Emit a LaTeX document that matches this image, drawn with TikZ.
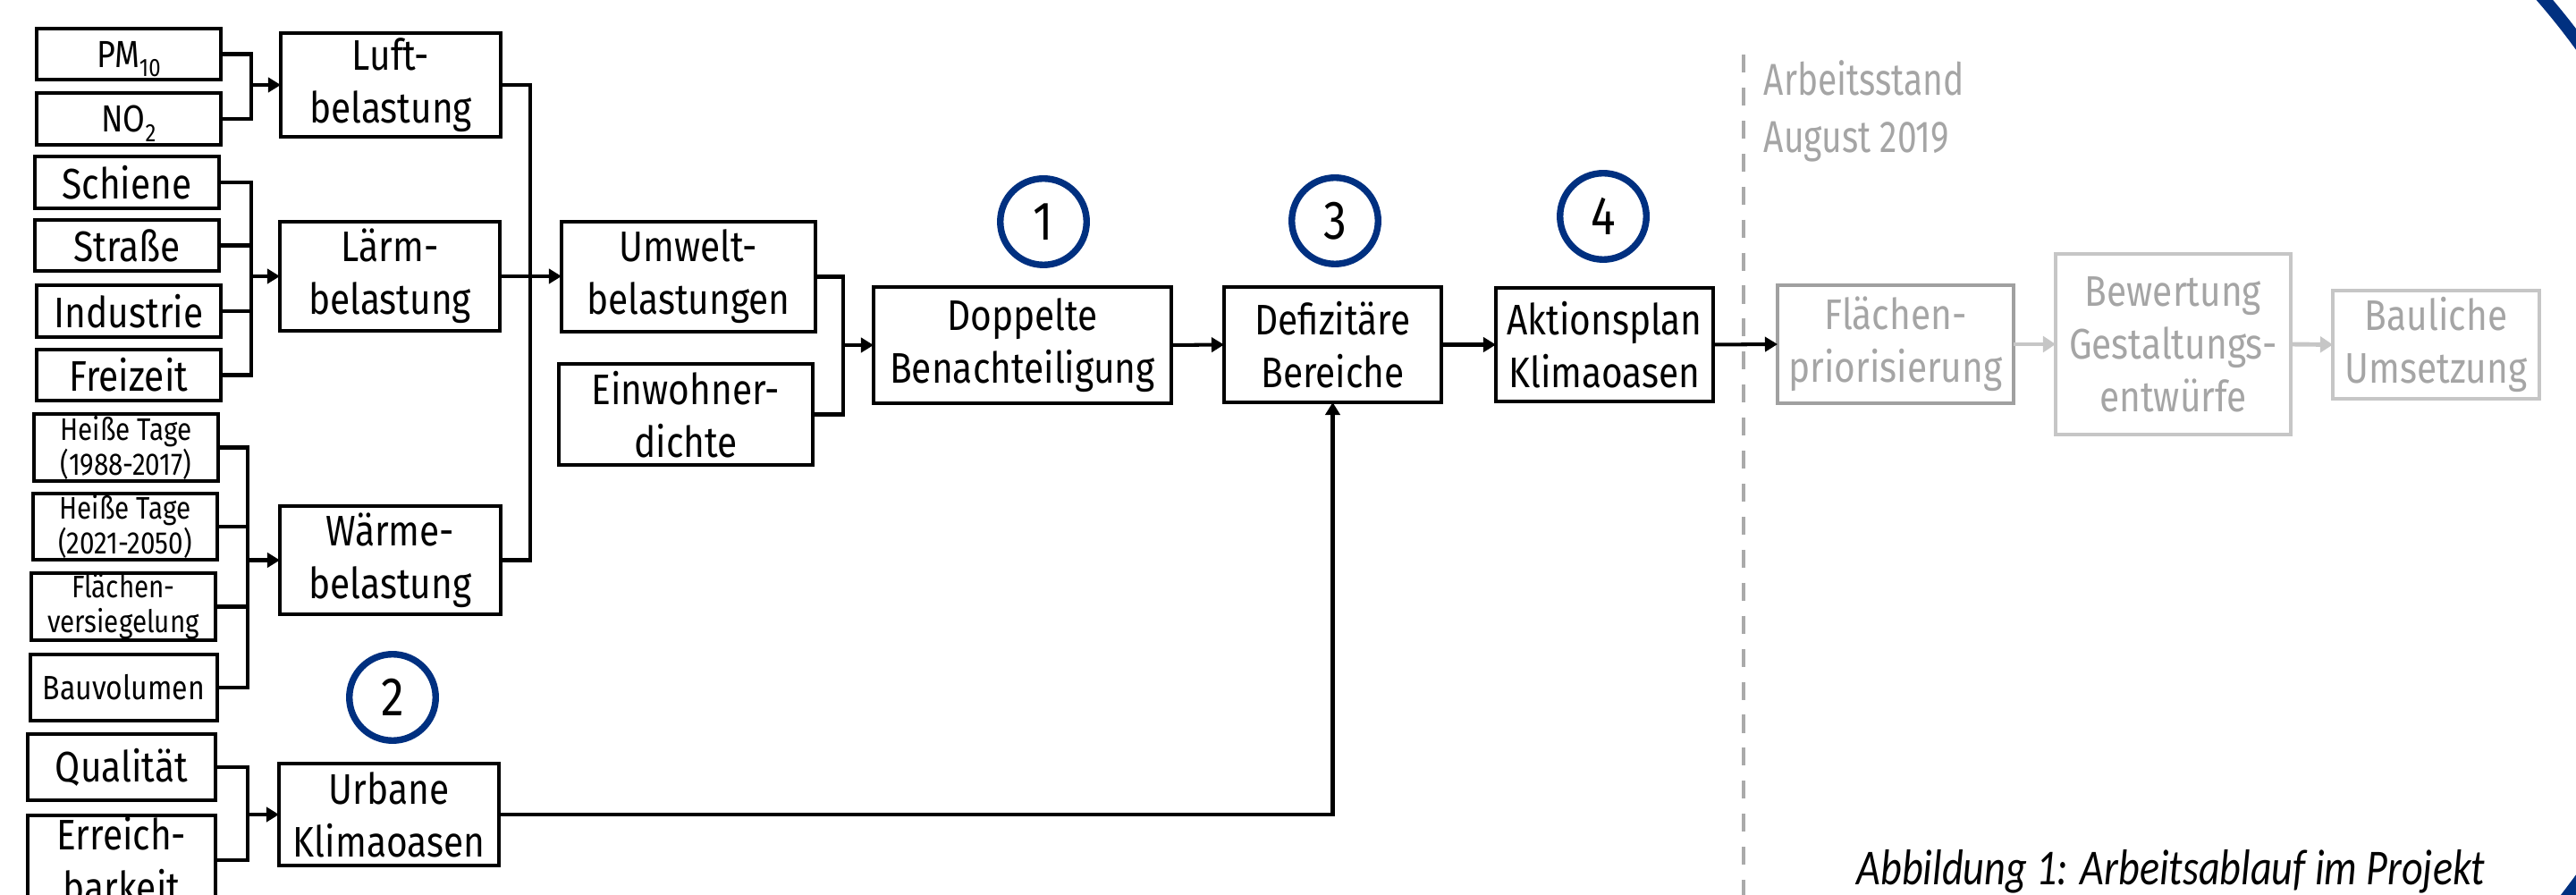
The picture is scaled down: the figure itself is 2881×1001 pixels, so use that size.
\documentclass[tikz,border=0pt]{standalone}
\usepackage{fontspec}
\setmainfont{Fira Sans}[FakeStretch=0.85]
\newfontfamily\capfont{Carlito}[FakeStretch=0.82]
\newfontfamily\arbfont{Fira Sans}[FakeStretch=0.78]
\usetikzlibrary{arrows.meta}
\definecolor{ublue}{RGB}{0,48,128}
\definecolor{gtext}{RGB}{165,165,165}
\definecolor{gline}{RGB}{160,160,160}
\definecolor{glight}{RGB}{198,198,198}
\definecolor{gdash}{RGB}{170,170,170}
\newcommand\mainsz{\fontsize{13.6}{16.8}\selectfont}
\newcommand\smallsz{\fontsize{9.9}{11.1}\selectfont}
\newcommand\bausz{\fontsize{10.7}{12}\selectfont}
\newcommand\numsz{\fontsize{17.3}{20}\selectfont}
\newcommand\pmsz{\fontsize{12}{14}\selectfont}
\newcommand\arbsz{\arbfont\fontsize{14.2}{18}\selectfont}
\newcommand\subx[1]{\smash{\raisebox{-3.1pt}{\fontsize{8}{8}\selectfont #1}}}
\tikzset{
 box/.style={draw=black,line width=0.9pt,inner sep=0pt,outer sep=0pt,align=center,font=\mainsz},
 conn/.style={line width=1.15pt},
 arr/.style={conn,-{Triangle[length=4pt,width=4.6pt]}},
 garr/.style={draw=glight,line width=1.4pt,-{Triangle[length=4pt,width=5pt]}},
 numc/.style={circle,draw=ublue,line width=2.1pt,minimum size=0.965cm,inner sep=0pt,font=\numsz},
 dashln/.style={draw=gdash,line width=1.3pt,dash pattern=on 5.7pt off 4.8pt},
 graytxt/.style={anchor=base west,inner sep=0pt,text=gtext,font=\arbsz},
 ring/.style={ublue,line width=4pt},
}
\newcommand\bxn[7][]{\node[box,#1,minimum width={(#5-#3)*0.01cm},minimum height={(#6-#4)*0.01cm}] (#2) at ({(#3+#5)/2},{(#4+#6)/2}) {#7};}
\begin{document}
\begin{tikzpicture}[x=0.01cm,y=-0.01cm]
\useasboundingbox (0,0) rectangle (2881,1001);
\clip (0,0) rectangle (2881,1001);
% decorative ring, visible only in the right-hand corners
\coordinate (ringc) at (2244,517);
\begin{scope}
\clip (2825,0) rectangle (2881,75);
\draw[ring] (ringc) circle[radius=7.93cm];
\end{scope}
\begin{scope}
\clip (2855,965) rectangle (2881,1001);
\draw[ring] (ringc) circle[radius=7.93cm];
\end{scope}
% boxes
\bxn{pm}{41}{32}{247}{89}{\pmsz PM\subx{10}}
\bxn{no2}{41}{104}{247}{162}{\pmsz NO\subx{2}}
\bxn{luft}{314}{37}{560}{153}{Luft-\\belastung}
\bxn{schiene}{39}{175}{245}{233}{Schiene}
\bxn{strasse}{39}{246}{245}{303}{Straße}
\bxn{industrie}{41}{319}{247}{377}{Industrie}
\bxn{freizeit}{41}{391}{247}{448}{Freizeit}
\bxn{laerm}{313}{248}{559}{370}{Lärm-\\belastung}
\bxn[font=\smallsz]{heiss1}{38}{463}{244}{538}{Heiße Tage\\(1988-2017)}
\bxn[font=\smallsz]{heiss2}{37}{552}{243}{626}{Heiße Tage\\(2021-2050)}
\bxn[font=\smallsz]{flaech}{35}{641}{241}{716}{Flächen-\\versiegelung}
\bxn[font=\bausz]{bauvol}{34}{732}{243}{806}{Bauvolumen}
\bxn{waerme}{313}{566}{560}{687}{Wärme-\\belastung}
\bxn{qual}{31}{821}{241}{895}{Qualität}
\bxn{erreich}{31}{912}{241}{1012}{Erreich-\\barkeit}
\bxn{urbane}{312}{854}{558}{968}{Urbane\\Klimaoasen}
\bxn{umwelt}{628}{248}{912}{371}{Umwelt-\\belastungen}
\bxn{einw}{625}{407}{909}{520}{Einwohner-\\dichte}
\bxn{doppelt}{977}{321}{1310}{451}{Doppelte\\Benachteiligung}
\bxn{defiz}{1369}{321}{1612}{450}{Defizitäre\\Bereiche}
\bxn{aktion}{1673}{322}{1916}{449}{Aktionsplan\\Klimaoasen}
\bxn[draw=gline,text=gtext]{flpri}{1988}{319}{2252}{451}{Flächen-\\priorisierung}
\bxn[draw=glight,text=gtext]{bewert}{2299}{284}{2562}{486}{Bewertung\\Gestaltungs-\\entwürfe}
\bxn[draw=glight,text=gtext]{baul}{2609}{325}{2840}{446}{Bauliche\\Umsetzung}
% numbered circles
\node[numc] (n1) at (1167,248) {1};
\node[numc] (n2) at (439,780) {2};
\node[numc] (n3) at (1493,247) {3};
\node[numc] (n4) at (1793,242) {4};
% bus points
\coordinate (b1) at (281,95);
\coordinate (b2) at (281,309);
\coordinate (b3) at (277,626.5);
\coordinate (b4) at (277,911);
\coordinate (bm) at (593,309);
\coordinate (bu) at (943,386);
% connectors
\draw[conn] (pm.east) -| (b1) |- (no2.east);
\draw[arr] (b1) -- (luft.west);
\draw[conn] (schiene.east) -| (b2) |- (freizeit.east);
\draw[conn] (strasse.east) -- (strasse.east -| b2);
\draw[conn] (industrie.east) -- (industrie.east -| b2);
\draw[arr] (b2) -- (laerm.west);
\draw[conn] (heiss1.east) -| (b3) |- (bauvol.east);
\draw[conn] (heiss2.east) -- (heiss2.east -| b3);
\draw[conn] (flaech.east) -- (flaech.east -| b3);
\draw[arr] (b3) -- (waerme.west);
\draw[conn] (qual.east) -| (b4) |- (erreich.east);
\draw[arr] (b4) -- (urbane.west);
\draw[conn] (luft.east) -| (bm) |- (waerme.east);
\draw[arr] (laerm.east) -- (laerm.east -| umwelt.west);
\draw[conn] (umwelt.east) -| (bu) |- (einw.east);
\draw[arr] (bu) -- (doppelt.west);
\draw[arr] (doppelt.east) -- (defiz.west);
\draw[arr] (defiz.east) -- (aktion.west);
\draw[arr] (aktion.east) -- (flpri.west);
\draw[garr] (flpri.east) -- (bewert.west);
\draw[garr] (bewert.east) -- (baul.west);
\draw[arr] (urbane.east) -| (defiz.south);
% separator
\coordinate (dtop) at (1950,61);
\coordinate (dbot) at (1950,1010);
\draw[dashln] (dtop) -- (dbot);
\node[graytxt] (arb1) at (1972,107) {Arbeitsstand};
\node[graytxt] (arb2) at (1972,171) {August 2019};
% caption
\node[anchor=base west,inner sep=0pt,font=\capfont\itshape\fontsize{16}{18}\selectfont] (cap) at (2076,990) {Abbildung 1: Arbeitsablauf im Projekt};
\end{tikzpicture}
\end{document}
